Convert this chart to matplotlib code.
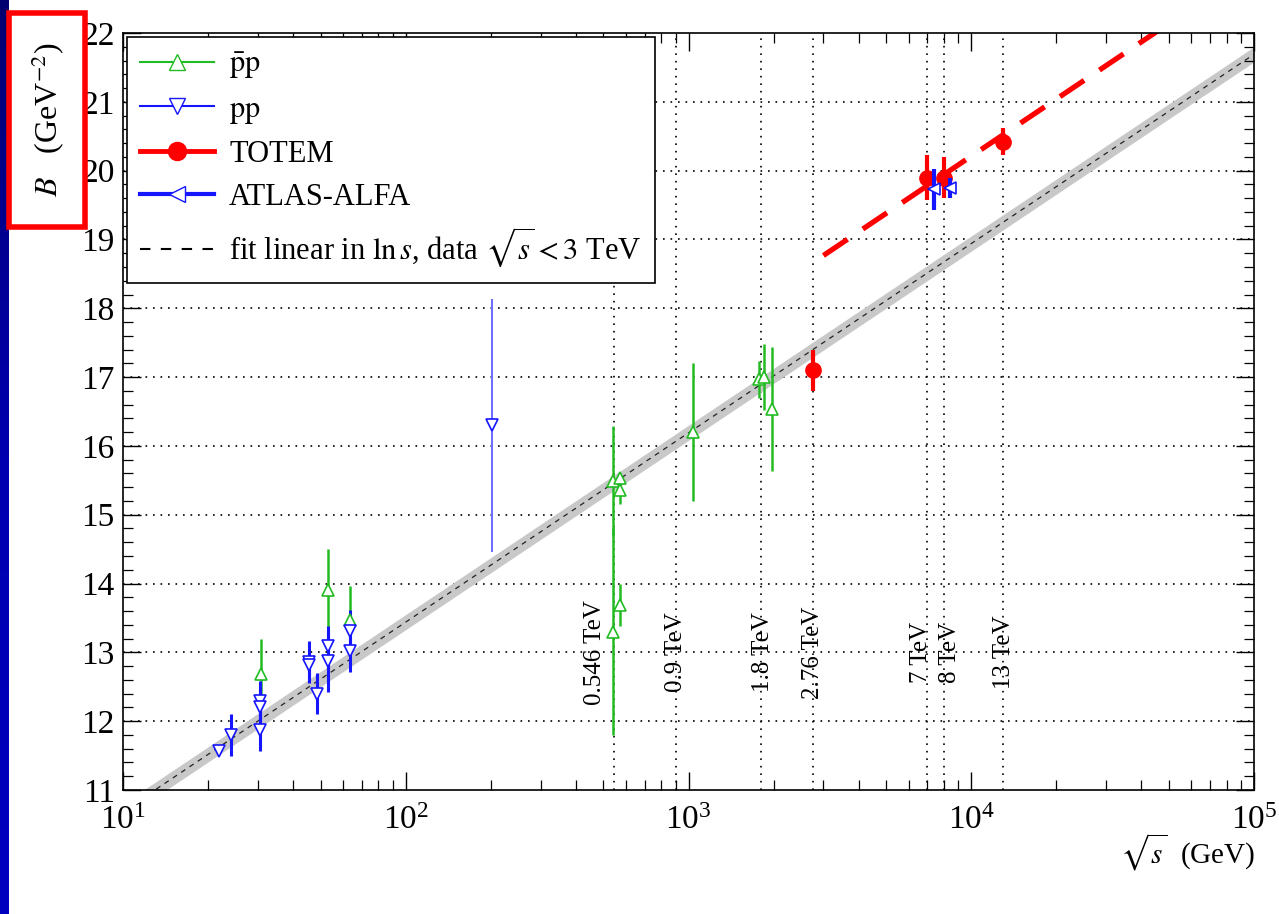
import numpy as np
import matplotlib
matplotlib.use("Agg")
import matplotlib.pyplot as plt
from matplotlib.lines import Line2D
from matplotlib.patches import Rectangle
from matplotlib.ticker import MultipleLocator, LogLocator, NullFormatter
from matplotlib.colors import LinearSegmentedColormap
import matplotlib.transforms as mtransforms

plt.rcParams['font.family'] = ['Liberation Serif', 'DejaVu Serif']
plt.rcParams['mathtext.fontset'] = 'stix'

# ---------------- data ----------------
pbarp_sqrts = [30.8, 53.1, 63.5, 541, 573, 573, 541, 573, 1037, 1775, 1848, 1973]
pbarp_B     = [12.69, 13.90, 13.47, 15.49, 15.53, 15.36, 13.30, 13.69, 16.20, 16.97, 17.00, 16.54]
pbarp_err   = [0.50, 0.60, 0.50, 0.80, 0.05, 0.20, 1.50, 0.30, 1.00, 0.27, 0.48, 0.90]

pp_sqrts = [21.9, 24.1, 30.6, 30.6, 30.6, 45.5, 45.5, 48.5, 53.0, 53.0, 63.5, 63.5, 201.8]
pp_B     = [11.57, 11.80, 12.29, 12.20, 11.87, 12.86, 12.82, 12.40, 13.09, 12.88, 13.31, 13.02, 16.30]
pp_err   = [0.03, 0.30, 0.30, 0.30, 0.30, 0.30, 0.20, 0.30, 0.30, 0.45, 0.30, 0.30, 1.84]

totem_sqrts = [2760, 7000, 8000, 13000]
totem_B     = [17.10, 19.90, 19.90, 20.42]
totem_err   = [0.30, 0.33, 0.30, 0.20]

atlas_sqrts = [7400, 8400]
atlas_B     = [19.73, 19.75]
atlas_err   = [0.30, 0.15]

# fit linear in ln s (written as B = b0 + b1*log10(sqrt(s)/1 TeV))
fit_b0, fit_b1, fit_band = 16.19, 2.75, 0.11
# high-energy (TOTEM) trend line
red_b0, red_b1, red_start = 17.45, 2.76, 3000

energy_lines = [546, 900, 1800, 2760, 7000, 8000, 13000]
energy_labels = ["0.546 TeV", "0.9 TeV", "1.8 TeV", "2.76 TeV", "7 TeV", "8 TeV", "13 TeV"]
label_offsets_px = [-19, 0, 2, 0, -6, 6, 1]

green = '#22bb22'
blue = '#1515ff'
red = '#ff0000'

# ---------------- figure ----------------
W, H = 1279, 914
fig = plt.figure(figsize=(W / 100, H / 100), dpi=100)
ax = fig.add_axes([123 / W, 1 - 790 / H, (1254 - 123) / W, (790 - 33) / H])

ax.set_xscale('log')
ax.set_xlim(10, 1e5)
ax.set_ylim(11, 22)

# grid (horizontal dotted)
for yv in range(12, 22):
    ax.axhline(yv, color='black', lw=1.2, ls=(0, (1, 3.5)), zorder=0.5)

# energy markers
for e, lab, off in zip(energy_lines, energy_labels, label_offsets_px):
    ax.axvline(e, color='black', lw=1.2, ls=(0, (1, 3.5)), zorder=0.5)
    tr = mtransforms.offset_copy(ax.transData, fig=fig, x=off * 72 / 100, y=0, units='points')
    ax.text(e, 13.0, lab, rotation=90, ha='center', va='center', fontsize=18,
            transform=tr, zorder=1)

# fit band + dashed fit line
xf = np.logspace(1, 5, 300)
Bf = fit_b0 + fit_b1 * (np.log10(xf) - 3)
ax.fill_between(xf, Bf - fit_band, Bf + fit_band, color='#c8c8c8', lw=0, zorder=1)
ax.plot(xf, Bf, color='#222222', lw=0.9, ls=(0, (4, 4)), zorder=1.5)

# red dashed trend line
xr = np.logspace(np.log10(red_start), 5, 100)
Br = red_b0 + red_b1 * (np.log10(xr) - 3)
ax.plot(xr, Br, color=red, lw=3.8, ls=(0, (5.5, 3.5)), zorder=2)

# data
ax.errorbar(pbarp_sqrts, pbarp_B, yerr=pbarp_err, fmt='^', color=green, mfc='white',
            mec=green, ms=8, elinewidth=1.8, capsize=0, zorder=3, mew=1.2)
ax.errorbar(pp_sqrts[:-1], pp_B[:-1], yerr=pp_err[:-1], fmt='v', color=blue, mfc='white',
            mec=blue, ms=8, elinewidth=2.2, capsize=0, zorder=3, mew=1.2)
ax.errorbar(pp_sqrts[-1:], pp_B[-1:], yerr=pp_err[-1:], fmt='v', color='#6a6aff', mfc='white',
            mec=blue, ms=8, elinewidth=1.4, capsize=0, zorder=3, mew=1.2)
ax.errorbar(atlas_sqrts, atlas_B, yerr=atlas_err, fmt='<', color=blue, mfc='white',
            mec=blue, ms=8, elinewidth=3.0, capsize=0, zorder=4, mew=1.2)
ax.errorbar(totem_sqrts, totem_B, yerr=totem_err, fmt='o', color=red, ms=11,
            elinewidth=3.0, capsize=0, zorder=3.5)

# ticks
ax.yaxis.set_major_locator(MultipleLocator(1))
ax.yaxis.set_minor_locator(MultipleLocator(0.2))
ax.xaxis.set_minor_locator(LogLocator(base=10, subs=np.arange(2, 10), numticks=20))
ax.xaxis.set_minor_formatter(NullFormatter())
ax.tick_params(which='both', direction='in', top=True, right=True, labelsize=24)
ax.tick_params(which='major', length=13, width=1.0)
ax.tick_params(which='minor', length=7, width=0.9)
ax.tick_params(axis='x', pad=11)
ax.tick_params(axis='y', pad=6)
for sp in ax.spines.values():
    sp.set_linewidth(1.2)

# legend
handles = [
    Line2D([], [], color=green, lw=1.5, marker='^', mfc='white', mec=green, ms=11),
    Line2D([], [], color=blue, lw=1.5, marker='v', mfc='white', mec=blue, ms=11),
    Line2D([], [], color=red, lw=3.5, marker='o', ms=13),
    Line2D([], [], color=blue, lw=3.0, marker='<', mfc='white', mec=blue, ms=11),
    Line2D([], [], color='black', lw=1.5, ls=(0, (5, 5))),
]
labels = [r"$\bar{\mathrm{p}}\mathrm{p}$", r"$\mathrm{pp}$", "TOTEM", "ATLAS-ALFA",
          r"fit linear in $\ln s$, data $\sqrt{s} < 3$ TeV"]
leg = ax.legend(handles, labels, loc='upper left', fontsize=22, frameon=True, fancybox=False,
                edgecolor='black', framealpha=1, borderaxespad=0.12, handlelength=2.4,
                labelspacing=0.45, handletextpad=0.5, borderpad=0.45)
leg.get_frame().set_linewidth(1.2)
leg.set_zorder(10)

# axis labels
fig.text(48 / W, 1 - 120 / H, r"$B$   (GeV$^{-2}$)", rotation=90, ha='center', va='center',
         fontsize=23)
fig.text(1188 / W, 1 - 852 / H, r"$\sqrt{s}$  (GeV)", ha='center', va='center', fontsize=21)

# decorations: red highlight box and blue side bar
fig.patches.append(Rectangle((9 / W, 1 - 227 / H), 76 / W, 214 / H, transform=fig.transFigure,
                             fill=False, edgecolor=red, lw=4, zorder=20))
bar_ax = fig.add_axes([0, 0, 9 / W, 1])
grad = np.linspace(0, 1, 256).reshape(-1, 1)
cmap = LinearSegmentedColormap.from_list('bb', ['#000070', '#0000b0', '#0000c0'])
bar_ax.imshow(grad, aspect='auto', cmap=cmap, extent=[0, 1, 0, 1], origin='upper')
bar_ax.set_axis_off()

fig.savefig('out.png', dpi=100)
